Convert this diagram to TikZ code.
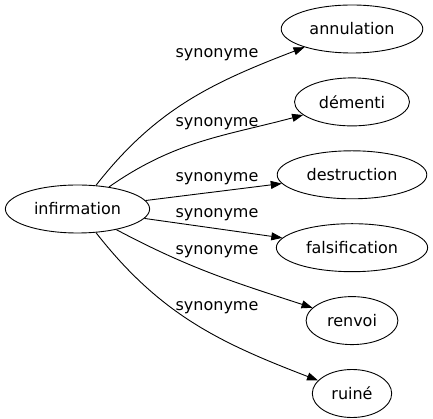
\documentclass[tikz,border=0pt]{standalone}
\usepackage{fontspec}
\setmainfont{DejaVu Sans}
\usetikzlibrary{shapes.geometric,arrows.meta,positioning}

\begin{document}
\begin{tikzpicture}[x=1pt, y=1pt, node distance=24pt,
    font=\fontsize{16}{19}\selectfont,
    term/.style={ellipse, draw, line width=0.9pt, minimum height=48pt, inner xsep=7.5pt, inner ysep=0pt},
    lbl/.style={inner sep=0pt},
    synarrow/.style={-{Triangle[length=11pt,width=8pt]}, line width=0.9pt}]
    \useasboundingbox (0,0) rectangle (433,419);

    \node[term] (infirmation) at (77.5,210) {infirmation};
    \node[term] (annulation) at (352,390) {annulation};
    \node[term, below=of annulation] (dementi) {démenti};
    \node[term, below=of dementi] (destruction) {destruction};
    \node[term, below=of destruction] (falsification) {falsification};
    \node[term, below=of falsification] (renvoi) {renvoi};
    \node[term, below=of renvoi] (ruine) {ruiné};

    \node[lbl] (syn1) at (217,364) {synonyme};
    \node[lbl] (syn2) at (217,295) {synonyme};
    \node[lbl] (syn3) at (217,240) {synonyme};
    \node[lbl] (syn4) at (217,204) {synonyme};
    \node[lbl] (syn5) at (217,167) {synonyme};
    \node[lbl] (syn6) at (217,111) {synonyme};

    \draw[synarrow] (infirmation) to[out=52, in=201] (annulation);
    \draw[synarrow] (infirmation) to[out=35, in=195] (dementi);
    \draw[synarrow] (infirmation) -- (destruction);
    \draw[synarrow] (infirmation) -- (falsification);
    \draw[synarrow] (infirmation) to[out=-28, in=162] (renvoi);
    \draw[synarrow] (infirmation) to[out=-52, in=159] (ruine);

\end{tikzpicture}
\end{document}
